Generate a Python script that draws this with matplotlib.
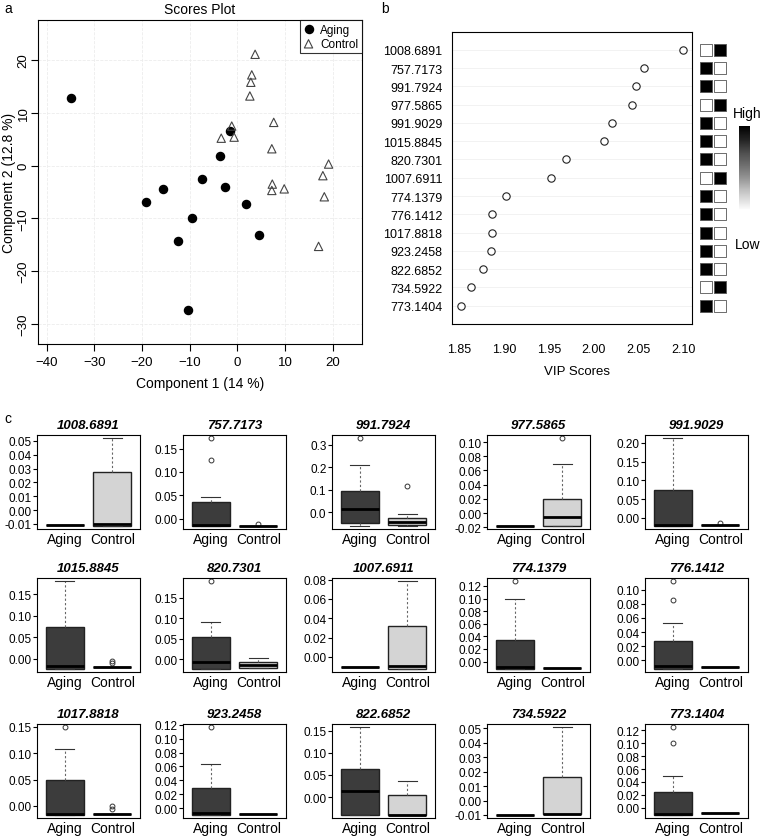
import numpy as np
import matplotlib.pyplot as plt
from matplotlib.ticker import MultipleLocator, FormatStrFormatter

plt.rcParams['font.family'] = ['Liberation Sans', 'DejaVu Sans']

W, H = 761, 837

# ---- a: scores plot ----
aging_x = [-34.9, -19.2, -15.7, -7.5, -9.5, -12.4, -10.4, -3.6, -2.7, -1.6, 1.8, 4.6]
aging_y = [12.9, -6.9, -4.5, -2.6, -10.0, -14.2, -27.4, 1.9, -4.0, 6.5, -7.3, -13.1]
control_x = [3.7, 3.0, 2.8, 2.6, 7.6, -1.2, -3.4, -0.7, 7.2, 7.3, 7.2, 9.8, 19.1, 17.9, 18.2, 17.0]
control_y = [21.1, 17.2, 15.8, 13.2, 8.2, 7.5, 5.2, 5.4, 3.2, -3.5, -4.7, -4.4, 0.3, -1.9, -5.9, -15.3]

# ---- b: VIP scores ----
features = ['1008.6891', '757.7173', '991.7924', '977.5865', '991.9029',
            '1015.8845', '820.7301', '1007.6911', '774.1379', '776.1412',
            '1017.8818', '923.2458', '822.6852', '734.5922', '773.1404']
vip = [2.099, 2.0555, 2.047, 2.043, 2.020, 2.011, 1.969, 1.9526, 1.9024,
       1.8868, 1.886, 1.8857, 1.876, 1.863, 1.8515]
aging_high = [0, 1, 1, 0, 1, 1, 1, 0, 1, 1, 1, 1, 1, 0, 1]

# ---- c: box stats (whislo, q1, med, q3, whishi) ----
aging_box = [
    (-0.011, -0.011, -0.011, -0.011, -0.011),
    (-0.015, -0.015, -0.013, 0.035, 0.047),
    (-0.058, -0.048, 0.015, 0.093, 0.21),
    (-0.0175, -0.0175, -0.0175, -0.0175, -0.0175),
    (-0.0205, -0.0205, -0.018, 0.0755, 0.212),
    (-0.0227, -0.0227, -0.016, 0.0743, 0.180),
    (-0.0226, -0.0226, -0.0073, 0.054, 0.092),
    (-0.0102, -0.0102, -0.0102, -0.0102, -0.0102),
    (-0.011, -0.011, -0.0085, 0.034, 0.099),
    (-0.012, -0.012, -0.0089, 0.0268, 0.0527),
    (-0.0164, -0.0164, -0.0151, 0.0496, 0.1075),
    (-0.0087, -0.0087, -0.0068, 0.0289, 0.063),
    (-0.0395, -0.0395, 0.0143, 0.0643, 0.157),
    (-0.0097, -0.0097, -0.0097, -0.0097, -0.0097),
    (-0.0103, -0.0103, -0.0092, 0.0245, 0.049),
]
aging_out = [[], [0.125, 0.172], [0.327], [], [], [], [0.190], [], [0.127],
             [0.086, 0.112], [0.149], [0.1158], [], [], [0.100, 0.1242]]
control_box = [
    (-0.0111, -0.0111, -0.010, 0.0273, 0.0517),
    (-0.015, -0.015, -0.015, -0.015, -0.015),
    (-0.058, -0.056, -0.041, -0.026, -0.007),
    (-0.0175, -0.0175, -0.0056, 0.020, 0.069),
    (-0.0197, -0.0197, -0.0197, -0.0197, -0.0197),
    (-0.0197, -0.0197, -0.0197, -0.0197, -0.0197),
    (-0.021, -0.021, -0.0129, -0.0073, 0.0024),
    (-0.012, -0.012, -0.0089, 0.0316, 0.078),
    (-0.0095, -0.0095, -0.0095, -0.0095, -0.0095),
    (-0.0103, -0.0103, -0.0103, -0.0103, -0.0103),
    (-0.0145, -0.0145, -0.0145, -0.0145, -0.0145),
    (-0.0082, -0.0082, -0.0082, -0.0082, -0.0082),
    (-0.0395, -0.0395, -0.0395, 0.0052, 0.036),
    (-0.0092, -0.0092, -0.0092, 0.0166, 0.0507),
    (-0.0087, -0.0087, -0.0087, -0.0087, -0.0087),
]
control_out = [[], [-0.011], [0.117], [0.105], [-0.013], [-0.005, -0.010], [], [], [], [],
               [-0.0007, -0.0064], [], [], [], []]
ytick_step = [0.01, 0.05, 0.1, 0.02, 0.05, 0.05, 0.05, 0.02, 0.02, 0.02, 0.05, 0.02, 0.05, 0.01, 0.02]


def px(l, t, w, h):
    return [l / W, 1 - (t + h) / H, w / W, h / H]


fig = plt.figure(figsize=(W / 100, H / 100), dpi=100)

# panel a
ax = fig.add_axes(px(38, 21, 324, 324))
ax.grid(True, color='#ececec', linestyle='--', linewidth=0.6)
ax.set_axisbelow(True)
ax.scatter(aging_x, aging_y, s=34, color='black', marker='o', label='Aging', zorder=3)
ax.scatter(control_x, control_y, s=36, facecolor='none', edgecolor='#444444',
           marker='^', linewidth=0.8, label='Control', zorder=3)
ax.set_xlim(-41.8, 26.1)
ax.set_ylim(-33.8, 27.6)
ax.set_xticks(range(-40, 21, 10))
ax.set_yticks(range(-30, 21, 10))
ax.tick_params(labelsize=9.5, length=5)
ax.tick_params(axis='y', pad=1)
for t in ax.get_yticklabels():
    t.set_rotation(90)
    t.set_va('center')
ax.set_xlabel('Component 1 (14 %)', fontsize=10, labelpad=6)
ax.set_ylabel('Component 2 (12.8 %)', fontsize=10, labelpad=1)
ax.set_title('Scores Plot', fontsize=10, pad=5)
leg = ax.legend(loc='upper right', fontsize=8.5, frameon=True, fancybox=False,
                edgecolor='black', borderaxespad=0, handletextpad=0.6,
                borderpad=0.3, labelspacing=0.2, handlelength=0.8)
leg.get_frame().set_linewidth(0.8)
fig.text(8 / W, 1 - 9 / H, 'a', fontsize=10, va='center', ha='center')

# panel b
n = len(features)
rows = np.arange(n)[::-1]
axb = fig.add_axes(px(452, 33, 240, 292))
for r in rows:
    axb.axhline(r, color='#f0f0f0', linewidth=0.6, zorder=0)
axb.scatter(vip, rows, s=28, facecolor='white', edgecolor='#222222', linewidth=0.8, zorder=3)
axb.set_xlim(1.8419, 2.1094)
axb.set_ylim(-1.0, n - 1 + 0.97)
axb.set_yticks(rows, features)
axb.set_xticks([1.85, 1.90, 1.95, 2.00, 2.05, 2.10])
axb.xaxis.set_major_formatter(FormatStrFormatter('%.2f'))
axb.tick_params(axis='y', length=0, pad=7, labelsize=9)
axb.tick_params(axis='x', length=0, pad=14, labelsize=9)
fig.text(577 / W, 1 - 372 / H, 'VIP Scores', fontsize=9.5, ha='center', va='center')
fig.text(385 / W, 1 - 9 / H, 'b', fontsize=10, va='center', ha='center')

axs = fig.add_axes(px(699, 33, 28, 292))
levels = np.array([aging_high, [1 - v for v in aging_high]], dtype=float)
for col in range(2):
    axs.scatter(np.full(n, col), rows, c=levels[col], cmap='Greys', vmin=0, vmax=1,
                marker='s', s=76, edgecolor='#555555', linewidth=0.6)
axs.set_xlim(-0.5, 1.5)
axs.set_ylim(-1.0, n - 1 + 0.97)
axs.axis('off')

axc = fig.add_axes(px(739, 127, 11, 84))
grad = np.linspace(1, 0, 100) ** 0.7
axc.imshow(grad[:, None], cmap='Greys', aspect='auto', vmin=0, vmax=1)
axc.axis('off')
fig.text(747 / W, 1 - 114 / H, 'High', fontsize=10, ha='center', va='center')
fig.text(748 / W, 1 - 245 / H, 'Low', fontsize=10, ha='center', va='center')

# panel c
fig.text(8 / W, 1 - 419 / H, 'c', fontsize=10, va='center', ha='center')
col_left = [37, 183, 332, 487, 645]
row_top = [436, 579, 725]
for i, name in enumerate(features):
    r, c = divmod(i, 5)
    a = fig.add_axes(px(col_left[c], row_top[r], 103, 94))
    stats = []
    for box, out, lab in [(aging_box[i], aging_out[i], 'Aging'),
                          (control_box[i], control_out[i], 'Control')]:
        lo, q1, med, q3, hi = box
        stats.append(dict(whislo=lo, q1=q1, med=med, q3=q3, whishi=hi,
                          fliers=out, label=lab))
    res = a.bxp(stats, positions=[1, 2], widths=0.8, capwidths=0.4, patch_artist=True,
                boxprops=dict(edgecolor='#222222', linewidth=1.0),
                medianprops=dict(color='black', linewidth=2),
                whiskerprops=dict(color='#666666', linewidth=0.8, linestyle=(0, (2, 2))),
                capprops=dict(color='#333333', linewidth=0.8),
                flierprops=dict(marker='o', markerfacecolor='none',
                                markeredgecolor='#333333', markersize=3.5,
                                markeredgewidth=0.7))
    res['boxes'][0].set_facecolor('#3c3c3c')
    res['boxes'][1].set_facecolor('#d4d4d4')
    vals = [v for b in (aging_box[i], control_box[i]) for v in b] + aging_out[i] + control_out[i]
    lo, hi = min(vals), max(vals)
    pad = 0.04 * (hi - lo)
    a.set_ylim(lo - pad, hi + pad)
    a.set_xlim(0.42, 2.58)
    a.yaxis.set_major_locator(MultipleLocator(ytick_step[i]))
    a.yaxis.set_major_formatter(FormatStrFormatter('%.1f' if ytick_step[i] >= 0.1 else '%.2f'))
    a.tick_params(axis='y', length=3, labelsize=8.5, pad=1)
    a.tick_params(axis='x', length=0, labelsize=10, pad=2)
    a.set_title(name, fontsize=9.5, fontweight='bold', fontstyle='italic', pad=5)

fig.savefig('out.png', dpi=100)
